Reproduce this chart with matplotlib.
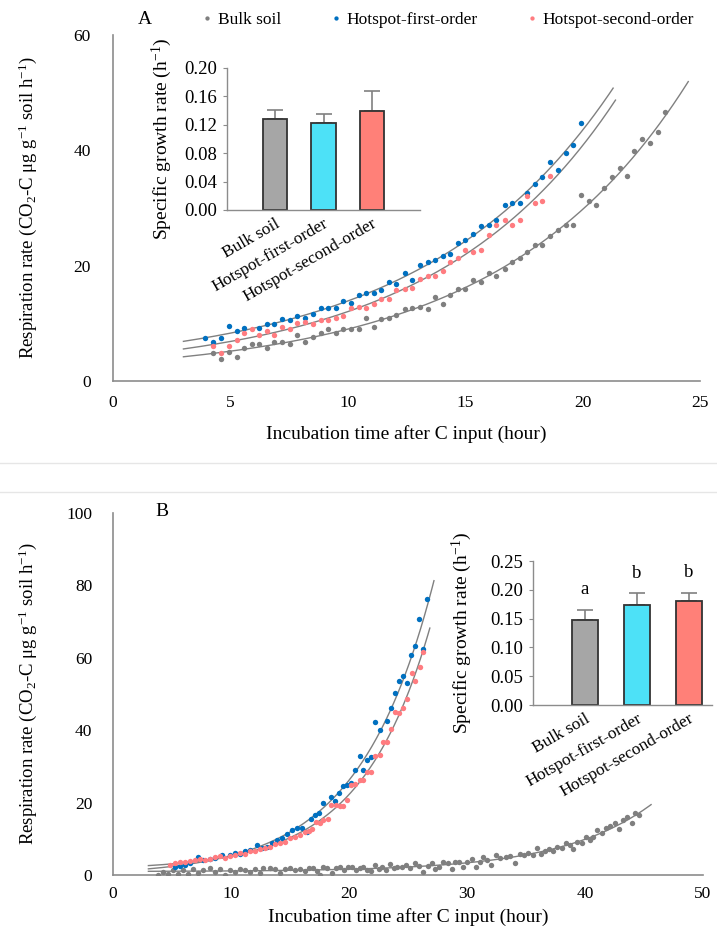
import numpy as np
import matplotlib
matplotlib.use("Agg")
import matplotlib.pyplot as plt
from matplotlib.lines import Line2D

plt.rcParams['font.family'] = ['Liberation Serif', 'DejaVu Serif']
plt.rcParams['mathtext.fontset'] = 'custom'
plt.rcParams['mathtext.rm'] = 'Liberation Serif'
plt.rcParams['mathtext.it'] = 'Liberation Serif:italic'

# ---------------- data: panel A ----------------
a_bulk_t = [4.27,4.58,4.95,5.26,5.59,5.90,6.23,6.54,6.86,7.18,7.53,7.84,8.17,8.52,8.85,9.16,9.48,9.80,10.13,10.47,
            10.79,11.11,11.43,11.76,12.07,12.42,12.75,13.06,13.42,13.73,14.06,14.37,14.69,15.01,15.33,15.69,16.01,16.33,16.68,16.99,
            17.32,17.65,17.96,18.28,18.6,18.95,19.28,19.59,19.94,20.27,20.58,20.91,21.25,21.58,21.9,22.21,22.54,22.85,23.2,23.52]
a_bulk_y = [4.8,3.8,5.1,4.2,5.8,6.4,6.4,5.8,6.7,6.7,6.4,8.0,6.7,7.7,8.3,9.1,8.3,9.0,9.1,9.0,
            10.9,9.4,10.8,10.9,11.4,12.4,12.7,12.9,12.4,14.6,13.4,14.9,15.9,15.9,17.5,17.2,18.8,18.2,19.4,20.7,
            21.4,22.3,23.5,23.5,25.1,26.1,27.1,27.1,32.3,31.2,30.6,33.5,35.3,36.9,35.6,39.8,42.0,41.3,43.1,46.7]
a_first_t = [3.92,4.27,4.58,4.95,5.26,5.59,6.23,6.54,6.86,7.18,7.53,7.84,8.17,8.52,8.85,9.16,9.48,9.80,10.13,10.47,
             10.79,11.11,11.43,11.76,12.07,12.42,12.75,13.06,13.42,13.73,14.06,14.37,14.69,15.01,15.33,15.69,16.01,16.33,16.68,16.99,
             17.32,17.65,17.96,18.28,18.6,18.95,19.28,19.59,19.94]
a_first_y = [7.4,6.8,7.4,9.5,8.7,9.2,9.2,9.9,9.9,10.8,10.5,11.3,11.0,11.7,12.6,12.6,12.6,13.9,13.6,14.9,
             15.2,15.2,15.8,17.2,16.9,18.8,17.5,20.1,20.7,21.0,21.6,22.0,23.9,24.5,25.5,26.8,27.0,27.9,30.6,30.9,
             30.9,32.6,34.1,35.3,37.9,36.6,39.5,40.9,44.7]
a_second_t = [4.27,4.58,4.95,5.26,5.59,5.90,6.23,6.54,6.86,7.18,7.53,7.84,8.17,8.52,8.85,9.16,9.48,9.80,10.13,10.47,
              10.79,11.11,11.43,11.76,12.07,12.42,12.75,13.06,13.42,13.73,14.06,14.37,14.69,15.01,15.33,15.69,16.01,16.33,16.68,16.99,
              17.32,17.65,17.96,18.28,18.6]
a_second_y = [6.1,4.8,6.1,7.1,8.3,9.0,8.0,8.7,8.0,9.3,9.0,10.0,10.2,9.8,10.6,10.5,11.0,11.3,12.6,12.9,
              12.7,13.4,14.3,14.3,15.8,15.9,16.2,17.7,18.2,18.2,19.1,20.7,21.4,22.8,22.3,22.8,25.4,27.1,27.9,27.1,
              27.9,32.0,30.9,31.3,35.6]

# ---------------- data: panel B ----------------
b_bulk_t = [3.84,4.27,4.69,5.11,5.54,5.96,6.38,6.81,7.23,7.66,8.22,8.64,9.07,9.49,9.92,10.34,10.76,11.19,11.61,12.03,
            12.46,12.74,13.31,13.73,14.15,14.58,15.0,15.42,15.85,16.27,16.64,
            16.92,17.26,17.54,17.82,18.16,18.53,18.9,19.24,19.58,19.94,20.23,20.59,20.93,21.21,21.55,21.83,22.2,22.54,22.82,23.14,
            23.47,23.81,24.1,24.46,24.83,25.17,25.59,25.96,26.3,26.67,27.0,27.29,27.66,28.0,28.36,28.7,28.98,29.35,29.69,30.03,
            30.4,30.73,31.1,31.38,31.72,32.06,32.43,32.8,
            33.3,33.64,34.06,34.49,34.83,35.2,35.57,35.9,36.24,36.61,36.98,37.32,37.66,38.02,38.36,38.73,39.0,39.29,39.72,40.08,
            40.42,40.71,41.05,41.41,41.78,42.12,42.54,42.91,43.25,43.59,43.96,44.24,44.6]
b_bulk_y = [0.0,0.9,0.2,1.4,0.2,1.4,0.2,1.6,0.5,1.4,1.8,0.9,1.6,0.0,1.4,0.9,1.6,1.4,0.9,1.6,
            0.5,1.8,1.8,1.6,0.5,1.6,1.8,1.4,1.6,1.2,1.8,
            1.8,1.2,0.0,2.1,1.8,0.6,1.8,2.3,1.4,2.1,2.1,1.4,1.8,2.1,1.4,1.2,2.8,1.6,2.3,1.4,
            3.0,1.8,2.3,2.1,2.8,1.8,3.2,2.5,0.9,2.5,3.2,1.6,2.1,3.7,3.2,1.6,3.7,3.7,2.1,3.7,
            4.3,2.1,3.7,4.9,4.1,2.8,5.5,4.6,
            4.9,5.25,3.4,5.8,5.4,6.0,5.4,7.4,5.8,6.5,7.1,6.7,7.8,7.4,8.9,8.3,7.1,9.2,8.8,10.6,
            9.7,10.4,12.4,11.7,12.9,13.4,14.3,12.6,15.2,15.9,14.5,17.0,16.6]
b_first_t = [5.25,5.68,6.1,6.53,7.23,7.66,8.22,8.64,9.21,9.92,10.34,10.76,11.19,11.61,12.17,12.6,13.02,13.45,13.87,14.29,
             14.72,15.14,15.56,15.99,16.41,16.8,17.1,17.45,17.8,18.5,18.8,19.15,19.5,19.8,20.2,20.5,20.9,21.2,21.55,21.9,
             22.2,22.6,23.2,23.56,23.9,24.2,24.6,24.9,25.25,25.6,25.9,26.3,26.6]
b_first_y = [2.1,2.5,2.8,3.2,4.9,4.1,4.4,4.6,5.5,5.5,6.2,5.8,6.5,6.9,8.3,7.4,7.8,8.8,9.7,10.1,
             11.3,12.4,12.9,12.9,12.0,15.6,16.6,17.0,19.8,21.5,20.5,22.6,24.7,24.9,25.3,29.0,32.9,29.0,31.8,32.7,
             42.4,40.0,42.5,46.0,50.2,53.7,55.1,53.1,60.8,63.3,70.6,62.4,76.2]
b_second_t = [4.83,5.25,5.68,6.1,6.53,6.95,7.37,7.8,8.22,8.64,9.07,9.49,9.92,10.34,10.76,11.19,11.61,12.03,12.46,12.88,
              13.31,13.73,14.15,14.58,15.0,15.42,15.85,16.27,16.6,16.9,17.2,17.5,17.8,18.2,18.5,18.9,19.2,19.5,19.8,20.2,
              20.5,20.9,21.2,21.55,21.9,22.2,22.6,22.9,23.2,23.56,23.9,24.2,24.6,24.9,25.3,25.6,26.0,26.3]
b_second_y = [2.8,3.2,3.7,3.5,3.9,4.1,4.3,4.1,4.4,4.9,5.3,4.8,5.3,5.6,6.2,5.8,6.6,6.5,7.1,7.4,
              7.8,8.5,8.8,9.2,10.1,10.6,11.1,12.0,12.2,12.6,14.7,14.5,15.2,15.6,19.3,19.3,19.0,19.0,20.7,24.9,
              25.1,26.2,26.2,28.4,28.5,33.0,33.1,36.7,36.8,40.3,45.0,44.7,46.0,48.6,55.7,53.7,57.4,61.7]

# ---------------- insets ----------------
inset_cats = ['Bulk soil', 'Hotspot-first-order', 'Hotspot-second-order']
inset_a_mean = [0.128, 0.123, 0.140]
inset_a_err = [0.013, 0.012, 0.027]
inset_b_mean = [0.147, 0.174, 0.181]
inset_b_err = [0.018, 0.020, 0.014]
inset_b_letters = ['a', 'b', 'b']

# fitted-curve extents (hours)
a_curve_range = {'bulk': (3.0, 24.5), 'first': (3.0, 21.3), 'second': (3.0, 21.4)}
b_curve_range = {'bulk': (3.0, 45.6), 'first': (3.0, 27.2), 'second': (3.0, 26.85)}

C_BULK = '#7f7f7f'
C_FIRST = '#0070c0'
C_SECOND = '#ff7c80'
BAR_COLORS = ['#a6a6a6', '#4de1f7', '#ff8078']
LINE_C = '#808080'
FS_TICK = 12.5
FS_LAB = 14
FS_YLAB = 13.5
FS_LEG = 12.5


def fit_exp(t, y):
    t = np.asarray(t, float); y = np.asarray(y, float)
    best = None
    for mu in np.linspace(0.02, 0.45, 861):
        M = np.vstack([np.ones_like(t), np.exp(mu * t)]).T
        coef = np.linalg.lstsq(M, y, rcond=None)[0]
        r = np.sum((M @ coef - y) ** 2)
        if best is None or r < best[0]:
            best = (r, coef[0], coef[1], mu)
    return best[1:]


def curve(ax, t, y, rng):
    a, b, mu = fit_exp(t, y)
    tt = np.linspace(rng[0], rng[1], 300)
    ax.plot(tt, a + b * np.exp(mu * tt), color=LINE_C, lw=1.0, zorder=2)


def style_main(ax):
    for s in ['top', 'right']:
        ax.spines[s].set_visible(False)
    for s in ['left', 'bottom']:
        ax.spines[s].set_color('#8c8c8c')
        ax.spines[s].set_linewidth(1.2)
    ax.tick_params(length=0, labelsize=FS_TICK)


fig = plt.figure(figsize=(7.17, 9.40), dpi=100)

ylab = 'Respiration rate (CO$_{\\mathregular{2}}$-C μg g$^{\\mathregular{-1}}$ soil h$^{\\mathregular{-1}}$)'

# ---------------- Panel A ----------------
axA = fig.add_axes([113/717, 1-381/940, 587/717, 346/940])
style_main(axA)
axA.set_xlim(0, 25); axA.set_ylim(0, 60)
axA.set_xticks([0, 5, 10, 15, 20, 25]); axA.set_yticks([0, 20, 40, 60])
axA.tick_params(axis='x', pad=10); axA.tick_params(axis='y', pad=16)
pts_kw = dict(s=15, linewidths=0, zorder=3)
hb = axA.scatter(a_bulk_t, a_bulk_y, color=C_BULK, **pts_kw)
hf = axA.scatter(a_first_t, a_first_y, color=C_FIRST, **pts_kw)
hs = axA.scatter(a_second_t, a_second_y, color=C_SECOND, **pts_kw)
curve(axA, a_bulk_t, a_bulk_y, a_curve_range['bulk'])
curve(axA, a_first_t, a_first_y, a_curve_range['first'])
curve(axA, a_second_t, a_second_y, a_curve_range['second'])
axA.set_xlabel('Incubation time after C input (hour)', fontsize=FS_LAB)
axA.xaxis.set_label_coords(0.5, -0.153); axA.xaxis.label.set_va('center')
axA.set_ylabel(ylab, fontsize=FS_YLAB)
axA.yaxis.set_label_coords(-0.145, 0.5); axA.yaxis.label.set_va('center')
fig.text(145/717, 1-20/940, 'A', fontsize=FS_LAB, ha='center', va='center')

fig.legend([hb, hf, hs], inset_cats, loc='center left', bbox_to_anchor=(203/717, 1-20/940),
           ncol=3, frameon=False, fontsize=FS_LEG, handlelength=0.5, handletextpad=0.35,
           columnspacing=2.9, borderpad=0, borderaxespad=0, markerscale=0.8, scatteryoffsets=[0.5])

# ---------------- Panel B ----------------
axB = fig.add_axes([113/717, 1-875/940, 590/717, 362/940])
style_main(axB)
axB.set_xlim(0, 50); axB.set_ylim(0, 100)
axB.set_xticks([0, 10, 20, 30, 40, 50]); axB.set_yticks([0, 20, 40, 60, 80, 100])
axB.tick_params(axis='x', pad=8); axB.tick_params(axis='y', pad=15)
axB.scatter(b_bulk_t, b_bulk_y, color=C_BULK, **pts_kw)
axB.scatter(b_first_t, b_first_y, color=C_FIRST, **pts_kw)
axB.scatter(b_second_t, b_second_y, color=C_SECOND, **pts_kw)
curve(axB, b_bulk_t, b_bulk_y, b_curve_range['bulk'])
curve(axB, b_first_t, b_first_y, b_curve_range['first'])
curve(axB, b_second_t, b_second_y, b_curve_range['second'])
axB.set_xlabel('Incubation time after C input (hour)', fontsize=FS_LAB)
axB.xaxis.set_label_coords(0.5, -0.116); axB.xaxis.label.set_va('center')
axB.set_ylabel(ylab, fontsize=FS_YLAB)
axB.yaxis.set_label_coords(-0.144, 0.5); axB.yaxis.label.set_va('center')
fig.text(162/717, 1-512/940, 'B', fontsize=FS_LAB, ha='center', va='center')


def inset(rect, means, errs, ylim, yticks, xlim, ylab_x):
    ax = fig.add_axes(rect)
    x = np.arange(len(means))
    ax.bar(x, means, width=0.5, color=BAR_COLORS, edgecolor='#333333', linewidth=1.3, zorder=2)
    ax.errorbar(x, means, yerr=[np.zeros(len(errs)), errs], fmt='none', ecolor='#808080',
                elinewidth=1.2, capsize=6, capthick=1.2, zorder=1)
    ax.set_xlim(*xlim); ax.set_ylim(*ylim)
    ax.set_yticks(yticks)
    ax.set_yticklabels([f'{v:.2f}' for v in yticks])
    ax.set_xticks(x)
    ax.set_xticklabels(inset_cats, rotation=30, ha='right', rotation_mode='anchor')
    for s in ['top', 'right']:
        ax.spines[s].set_visible(False)
    for s in ['left', 'bottom']:
        ax.spines[s].set_color('#8c8c8c'); ax.spines[s].set_linewidth(1.0)
    ax.tick_params(axis='x', length=0, pad=4, labelsize=FS_TICK)
    ax.tick_params(axis='y', length=3, color='#8c8c8c', pad=4, labelsize=13.5)
    ax.set_ylabel('Specific growth rate (h$^{\\mathregular{-1}}$)', fontsize=FS_LAB)
    ax.yaxis.set_label_coords(ylab_x, 0.5); ax.yaxis.label.set_va('center')
    ax.patch.set_alpha(0)
    return ax


insA = inset([227/717, 1-210/940, 193/717, 142/940], inset_a_mean, inset_a_err,
             (0, 0.20), [0, 0.04, 0.08, 0.12, 0.16, 0.20], (-1, 3), -0.337)
insB = inset([533/717, 1-705/940, 179/717, 144/940], inset_b_mean, inset_b_err,
             (0, 0.25), [0, 0.05, 0.10, 0.15, 0.20, 0.25], (-1, 2.45), -0.397)
for i, (m, e, l) in enumerate(zip(inset_b_mean, inset_b_err, inset_b_letters)):
    insB.text(i, m + e + 0.035, l, ha='center', va='center', fontsize=13.5)

# separator lines between panels
for yy in (463, 492):
    fig.add_artist(Line2D([0, 1], [1-yy/940, 1-yy/940], color='#e6e6e6', lw=1.0))

fig.savefig('out.png', dpi=100)
